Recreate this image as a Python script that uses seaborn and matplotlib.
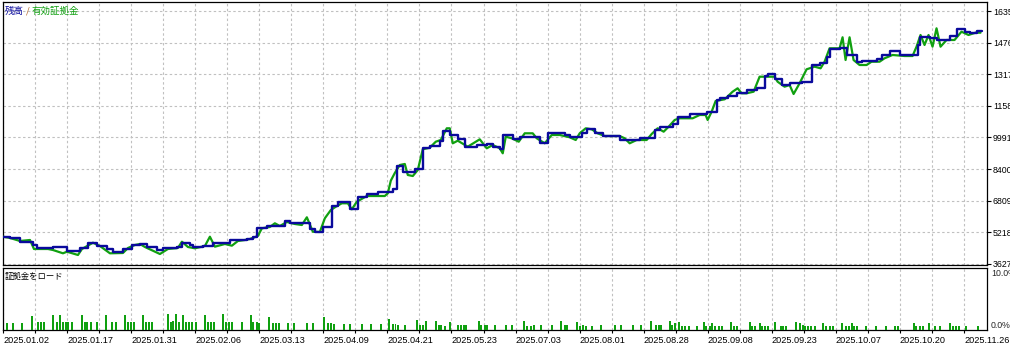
import matplotlib
matplotlib.use("Agg")
import matplotlib.pyplot as plt
import seaborn as sns
import numpy as np
import pandas as pd

# ---------------- data ----------------
bal_x = [0,7,17,30,34,50,64,77,85,94,104,110,120,129,137,144,154,160,174,179,187,190,200,210,227,244,250,254,264,282,
         287,294,307,312,320,329,335,347,355,364,375,390,394,400,412,420,427,437,440,447,455,462,474,484,490,497,500,510,
         517,537,545,562,567,579,584,592,600,617,637,652,657,670,675,687,704,714,717,725,734,744,754,762,765,772,779,787,
         799,809,817,824,827,837,844,854,859,874,879,887,897,915,917,927,934,947,954,962,967,974,979]
bal_y = [4996,4916,4744,4578,4442,4462,4291,4412,4664,4528,4377,4241,4377,4563,4629,4493,4327,4412,4493,4694,4578,4462,
         4543,4694,4830,4865,4996,5419,5535,5771,5700,5670,5368,5248,5499,6557,6758,6375,6980,7146,7262,7398,8556,8239,
         8390,9447,9563,9815,10318,10117,9900,9497,9613,9664,9527,9412,10117,9915,10031,9729,10202,10117,10001,10202,
         10404,10233,10066,9865,9981,10364,10519,10671,11008,11174,11290,11879,11995,12080,12216,12382,12468,13087,13188,
         12921,12634,12750,12800,13641,13727,14059,14432,14512,14145,13807,13858,13928,14145,14346,14145,14648,15066,
         14985,14900,15101,15439,15288,15267,15353,15353]

eq_x = [0,7,17,27,31,45,50,60,64,75,79,90,97,107,120,125,132,137,142,157,165,175,179,185,192,202,207,212,222,229,235,
        242,247,255,259,267,272,277,284,292,299,304,310,317,322,328,333,339,345,349,354,360,364,382,385,388,392,397,402,
        405,410,415,420,427,433,438,444,447,450,455,465,477,484,490,497,500,503,509,516,522,530,534,542,549,557,567,573,
        577,583,589,595,602,617,622,627,634,644,649,655,661,666,672,677,690,697,703,705,709,713,722,730,735,739,744,751,
        757,772,775,782,787,791,797,804,812,818,822,827,837,840,843,847,851,857,864,869,877,882,890,902,910,914,918,922,
        926,930,934,938,944,952,959,966,973,978]
eq_y = [4996,4931,4780,4830,4377,4377,4326,4160,4241,4075,4377,4694,4528,4160,4175,4427,4578,4629,4478,4125,4377,4427,
        4744,4478,4412,4528,4996,4493,4629,4543,4780,4830,4880,5031,5419,5485,5671,5535,5736,5636,5585,5973,5248,5233,
        5923,6340,6507,6678,6678,6376,6758,6930,7045,7045,7181,7816,8203,8606,8657,8103,8052,8354,9397,9477,9779,9865,
        10454,10454,9699,9830,9528,9900,9447,9613,9447,9195,10031,9951,9779,10202,10202,9951,9699,10117,10117,10001,
        9865,10202,10454,10404,10202,10066,10066,9951,9699,9865,9865,10167,10454,10283,10535,10872,10958,10958,11124,
        11124,10872,11290,11829,11914,12297,12468,12216,12216,12297,13052,13052,12800,12549,12634,12181,12720,13425,
        13556,13475,13807,14482,14482,15036,13893,15036,13893,13641,13641,13807,13807,13979,14145,14094,14094,14563,
        15152,14648,15152,14563,15489,14563,14900,14900,15318,15152,15268,15268]

margin_x = [4.3,10.3,19.3,28.7,34.7,37.7,41.3,50.3,53.7,57,59.7,62.7,65.3,68.7,78.7,82,84.3,87.7,93.7,102.7,108.7,112.7,
            122,125.3,128,131,139.7,143,146,149,164.7,167.7,170.3,173.3,176.3,179.7,182.7,186,189,193,202,204.7,207.7,
            211.3,219.7,223,226.3,229.3,238.7,247.7,250.3,253.7,256.3,266.3,269.7,272.7,275.7,284.7,291,
            303.7,309.7,321.3,324.7,327.7,330.7,341,347,358.7,367.7,377.7,386.3,389.7,392.7,395.7,402,414.7,417.7,420.3,
            423.7,433,436.3,438.7,442,447.7,455.3,458,461,463.7,476,478.7,482,484.7,492,503.7,509.7,521.3,524.7,528,531.3,
            538,549.7,558.7,562,564.7,574.7,577.3,580.3,583.7,589.7,598.7,612,618.7,630.3,638.7,
            648.7,653,656,658.7,667,669.7,672.7,676,679.7,682.7,686,694.7,701,703.7,707,709.7,712.7,716,719.3,728.7,731.3,
            734.3,747,749.7,752.7,757,759.3,762,765.3,772,778,780.3,783.7,793.7,797,800.3,802.7,805.3,808.7,812,820.3,
            823.7,827,830.3,839.7,843,846,849.3,851.7,854.3,863.7,873.7,883,892,895.3,911,913.7,917,920.3,926.3,932.7,
            937,947.7,950.3,953,956,963,975.3]
margin_pct = [1.2,1.2,1.2,2.3,1.35,1.35,1.35,2.4,1.35,2.4,1.35,1.35,1.35,1.35,2.4,1.35,1.35,1.35,1.35,2.4,1.35,1.35,
              2.4,1.35,1.35,1.35,2.4,1.35,1.35,1.35,2.6,1.35,1.5,2.6,1.35,2.4,1.35,1.35,1.35,1.35,2.4,1.35,1.35,
              1.35,2.6,1.35,1.35,1.35,1.35,2.4,1.25,1.35,1.2,2.15,1.2,1.2,1.2,1.2,1.2,
              1.2,1.2,2.15,1.2,1.2,1.0,1.0,1.0,1.0,1.0,1.0,1.8,1.0,1.0,0.8,0.8,1.6,0.8,0.8,
              1.45,1.45,0.8,0.8,0.65,1.35,0.8,0.8,0.8,0.8,1.45,0.8,0.8,0.8,0.8,0.8,0.8,1.45,0.65,0.65,
              0.8,0.8,0.8,1.45,0.8,0.8,1.35,0.65,0.8,0.65,0.65,0.8,0.8,0.8,0.8,0.8,
              1.45,0.8,0.8,0.8,1.45,0.8,1.1,1.35,0.65,0.65,
              0.65,0.65,1.35,0.65,0.65,1.1,0.65,0.65,0.65,1.35,
              0.65,0.65,1.35,0.65,0.65,1.1,0.65,0.65,0.65,1.35,
              0.65,0.65,0.65,1.35,1.1,0.8,0.65,0.65,0.65,0.65,
              1.1,0.65,0.65,0.65,1.1,0.65,0.65,1.1,0.65,0.65,
              0.65,0.65,0.65,0.65,0.65,1.1,0.65,0.65,0.65,1.1,
              0.65,0.65,1.1,0.65,0.65,0.65,0.65,0.65]

y_ticks = [3627, 5218, 6809, 8400, 9991, 11582, 13173, 14764, 16355]
x_labels = ["2025.01.02", "2025.01.17", "2025.01.31", "2025.02.06", "2025.03.13", "2025.04.09", "2025.04.21",
            "2025.05.23", "2025.07.03", "2025.08.01", "2025.08.28", "2025.09.08", "2025.09.23", "2025.10.07",
            "2025.10.20", "2025.11.26"]

# ---------------- style ----------------
sns.set_style("white")
plt.rcParams['font.family'] = ['Liberation Sans', 'Noto Sans CJK JP', 'DejaVu Sans']

W, H = 1010, 345
fig = plt.figure(figsize=(W / 100, H / 100), dpi=100)
fig.patch.set_facecolor("white")

def frac(l, t, r, b):
    return [l / W, 1 - b / H, (r - l) / W, (b - t) / H]

BLUE = "#0a0a9c"
GREEN = "#10a010"
GRID = "#c0c0c0"
dash = (0, (2.2, 2.2))

ax1 = fig.add_axes(frac(2.5, 2, 987, 265))
ax2 = fig.add_axes(frac(2.5, 267.5, 987, 330))

XMAX = 984.5
grid_x = [k * 32.05 for k in range(31) if k * 32.05 < XMAX]

# main panel
df_eq = pd.DataFrame({"x": eq_x, "y": eq_y})
df_bal = pd.DataFrame({"x": bal_x, "y": bal_y})
sns.lineplot(data=df_eq, x="x", y="y", ax=ax1, color=GREEN, lw=1.6, zorder=3)
sns.lineplot(data=df_bal, x="x", y="y", ax=ax1, color=BLUE, lw=1.7, zorder=4, drawstyle="steps-post")
ax1.set_xlim(-0.5, XMAX)
ax1.set_ylim(3571, 16813)
ax1.set_xlabel("")
ax1.set_ylabel("")
for gx in grid_x:
    ax1.axvline(gx, color=GRID, lw=0.8, ls=dash, zorder=1)
for gy in y_ticks:
    ax1.axhline(gy, color=GRID, lw=0.8, ls=dash, zorder=1)
ax1.set_xticks([])
ax1.yaxis.tick_right()
ax1.set_yticks(y_ticks)
ax1.set_yticklabels([str(v) for v in y_ticks])
ax1.tick_params(axis="y", right=True, left=False, direction="out", length=3, width=0.8,
                pad=1.2, labelsize=6.3, colors="black")
for s in ax1.spines.values():
    s.set_color("black")
    s.set_linewidth(0.9)

# lower panel
ax2.bar(margin_x, margin_pct, width=2.0, color=GREEN, linewidth=0, zorder=3)
ax2.set_xlim(-0.5, XMAX)
ax2.set_ylim(0, 10)
for gx in grid_x:
    ax2.axvline(gx, color=GRID, lw=0.8, ls=dash, zorder=1)
ax2.set_yticks([])
ax2.set_xticks(grid_x)
ax2.set_xticklabels([x_labels[i // 2] if i % 2 == 0 and i // 2 < len(x_labels) else "" for i in range(len(grid_x))],
                    ha="left")
ax2.tick_params(axis="x", bottom=True, direction="out", length=2.5, width=0.8, pad=1.5,
                labelsize=6.6, colors="black")
for s in ax2.spines.values():
    s.set_color("black")
    s.set_linewidth(0.9)

fig.text(991 / W, 1 - 273 / H, "10.0%", fontsize=6.3, va="center", ha="left")
fig.text(991 / W, 1 - 325 / H, "0.0%", fontsize=6.3, va="center", ha="left")

# titles
cjk = ['Noto Sans CJK JP', 'DejaVu Sans']
fig.text(5 / W, 1 - 11 / H, "残高", fontsize=6.8, color=BLUE, va="center", ha="left", family=cjk)
fig.text(26 / W, 1 - 11 / H, "/", fontsize=6.8, color="#b06020", va="center", ha="left", family=cjk)
fig.text(32 / W, 1 - 11 / H, "有効証拠金", fontsize=6.8, color=GREEN, va="center", ha="left", family=cjk)
fig.text(5 / W, 1 - 276 / H, "証拠金をロード", fontsize=6.0, color="black", va="center", ha="left", family=cjk)

fig.savefig("out.png", dpi=100)
